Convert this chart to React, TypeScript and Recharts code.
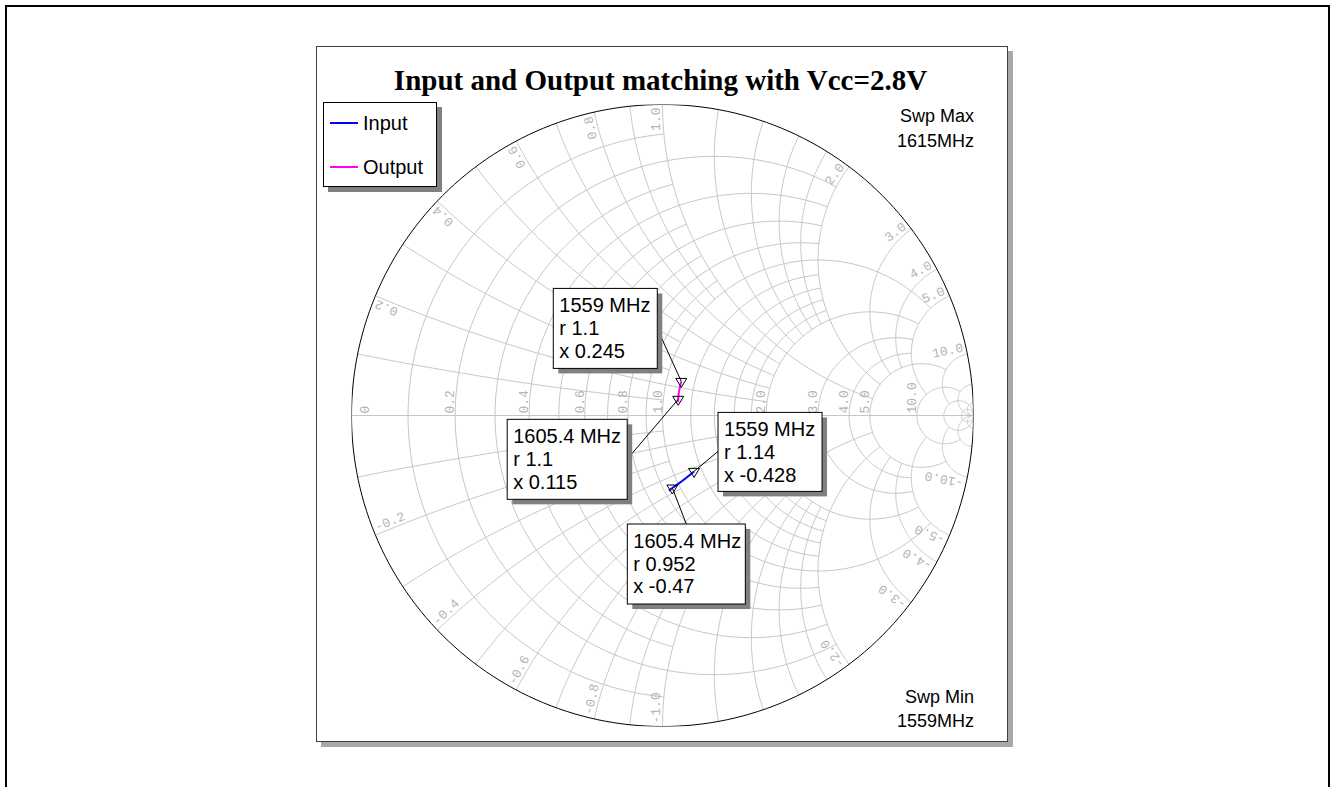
import { ComposedChart, Line, Scatter, XAxis, YAxis } from "recharts";

// swept impedance, normalised (r + jx)
const inputFreq = [1559, 1570, 1580, 1590, 1600, 1605.4, 1615];
const inputR = [1.14, 1.1, 1.066, 1.032, 0.988, 0.952, 0.925];
const inputX = [-0.428, -0.44, -0.449, -0.457, -0.465, -0.47, -0.475];

const outputFreq = [1559, 1575, 1590, 1605.4, 1615];
const outputR = [1.1, 1.099, 1.098, 1.1, 1.102];
const outputX = [0.245, 0.2, 0.155, 0.115, 0.095];

const traceNames = ["Input", "Output"];
const traceColors = ["#0000ff", "#ff00ff"];

const markerTrace = ["Output", "Output", "Input", "Input"];
const markerFreq = [1559, 1605.4, 1559, 1605.4];
const markerR = [1.1, 1.1, 1.14, 0.952];
const markerX = [0.245, 0.115, -0.428, -0.47];

// Smith grid: constant-r circles / constant-x arcs and where they get clipped
const rGrid = [0.1, 0.2, 0.3, 0.4, 0.5, 0.6, 0.7, 0.8, 0.9, 1.0, 1.2, 1.4, 1.6, 1.8, 2.0, 3.0, 4.0, 5.0, 10, 20, 50];
const rGridClip = [1, 2, 1, 2, 1, 2, 1, 2, 1, 5, 2, 2, 2, 2, 5, 5, 5, 10, 20, Infinity, Infinity];
const xGrid = [0.1, 0.2, 0.3, 0.4, 0.5, 0.6, 0.7, 0.8, 0.9, 1.0, 1.2, 1.4, 1.6, 1.8, 2.0, 3.0, 4.0, 5.0, 10, 20, 50];
const xGridClip = [1, 2, 1, 2, 1, 2, 1, 2, 1, 5, 2, 2, 2, 2, 5, 5, 5, 10, 20, Infinity, Infinity];

const rLabels = [0, 0.2, 0.4, 0.6, 0.8, 1.0, 2.0, 3.0, 4.0, 5.0, 10.0];
const xLabels = [0.2, 0.4, 0.6, 0.8, 1.0, 2.0, 3.0, 4.0, 5.0, 10.0];

const sweepMax = "1615MHz";
const sweepMin = "1559MHz";
const title = "Input and Output matching with Vcc=2.8V";

// layout
const PANEL = { left: 316, top: 46, width: 692, height: 696 };
const PLOT_MARGIN = { top: 58.5, right: 34.5, bottom: 15.5, left: 35.5 };
const GRID_COLOR = "#c6c6c6";
const LABEL_COLOR = "#b4b4b4";
const SANS = "Arial, 'Liberation Sans', sans-serif";

// callout boxes, px offsets from the marker point
const markerBoxes = [
  { dx: -128, dy: -93, w: 104, h: 80, ax: -20, ay: -44 },
  { dx: -171, dy: 20, w: 120, h: 80, ax: -46, ay: 54 },
  { dx: 24, dy: -59, w: 104, h: 79, ax: 24, ay: -20 },
  { dx: -45, dy: 36, w: 118, h: 80, ax: 14, ay: 36 },
];

type Pt = { gx: number; gy: number };

const gamma = (r: number, x: number): Pt => {
  const den = (r + 1) * (r + 1) + x * x;
  return { gx: (r * r - 1 + x * x) / den, gy: (2 * x) / den };
};

function rCircle(r: number, xmax: number, n = 140): Pt[] {
  const c = r / (1 + r);
  const rho = 1 / (1 + r);
  let a0 = 0;
  if (isFinite(xmax)) {
    const g = gamma(r, xmax);
    a0 = Math.atan2(g.gy, g.gx - c);
  }
  const pts: Pt[] = [];
  for (let i = 0; i <= n; i++) {
    const a = a0 + ((2 * Math.PI - 2 * a0) * i) / n;
    pts.push({ gx: c + rho * Math.cos(a), gy: rho * Math.sin(a) });
  }
  return pts;
}

function xArc(x: number, rmax: number, n = 120): Pt[] {
  const cy = 1 / x;
  const rad = 1 / Math.abs(x);
  const g0 = gamma(0, x);
  const g1 = isFinite(rmax) ? gamma(rmax, x) : { gx: 1, gy: 0 };
  const a0 = Math.atan2(g0.gy - cy, g0.gx - 1);
  let a1 = Math.atan2(g1.gy - cy, g1.gx - 1);
  if (x > 0) while (a1 < a0) a1 += 2 * Math.PI;
  else while (a1 > a0) a1 -= 2 * Math.PI;
  const pts: Pt[] = [];
  for (let i = 0; i <= n; i++) {
    const a = a0 + ((a1 - a0) * i) / n;
    pts.push({ gx: 1 + rad * Math.cos(a), gy: cy + rad * Math.sin(a) });
  }
  return pts;
}

const gridCurves: Pt[][] = [
  [{ gx: -1, gy: 0 }, { gx: 1, gy: 0 }],
  ...rGrid.map((r, i) => rCircle(r, rGridClip[i])),
  ...xGrid.map((x, i) => xArc(x, xGridClip[i])),
  ...xGrid.map((x, i) => xArc(-x, xGridClip[i])),
];
const unitCircle = rCircle(0, Infinity, 240);

const traces = [
  inputFreq.map((f, i) => ({ f, ...gamma(inputR[i], inputX[i]) })),
  outputFreq.map((f, i) => ({ f, ...gamma(outputR[i], outputX[i]) })),
];

const markers = markerFreq.map((f, i) => ({
  idx: i,
  trace: markerTrace[i],
  lines: [`${f} MHz`, `r ${markerR[i]}`, `x ${markerX[i]}`],
  ...gamma(markerR[i], markerX[i]),
}));

const fmt = (v: number) => (v === 0 ? "0" : v.toFixed(1));
const labelPoints = [
  ...rLabels.map((r) => ({ kind: "r", value: r, text: fmt(r), ...gamma(r, 0) })),
  ...xLabels.map((x) => ({ kind: "x", value: x, text: fmt(x), ...gamma(0, x) })),
  ...xLabels.map((x) => ({ kind: "x", value: -x, text: fmt(-x), ...gamma(0, -x) })),
];

function GridLabel(props: any) {
  const { cx, cy, payload } = props;
  const style = { fontFamily: "'Liberation Mono', 'Courier New', monospace", fontSize: 13, fill: LABEL_COLOR };
  if (payload.kind === "r") {
    const ox = payload.value === 0 ? 17 : -1;
    return (
      <text transform={`translate(${cx + ox},${cy - 2}) rotate(-90)`} textAnchor="start" {...style}>
        {payload.text}
      </text>
    );
  }
  const th = Math.atan2(payload.gy, payload.gx);
  const px = cx - 3 * Math.cos(th);
  const py = cy + 3 * Math.sin(th);
  const dir = payload.value > 0 ? th : th + Math.PI;
  return (
    <text
      transform={`translate(${px},${py}) rotate(${(-dir * 180) / Math.PI})`}
      textAnchor={payload.value > 0 ? "end" : "start"}
      dy={-3}
      {...style}
    >
      {payload.text}
    </text>
  );
}

function MarkerShape(props: any) {
  const { cx, cy, payload } = props;
  const b = markerBoxes[payload.idx];
  const bx = cx + b.dx;
  const by = cy + b.dy;
  return (
    <g>
      <line x1={cx + b.ax} y1={cy + b.ay} x2={cx} y2={cy} stroke="#000" strokeWidth={1} />
      <path d={`M${cx - 5.5},${cy - 3} L${cx + 5.5},${cy - 3} L${cx},${cy + 6} Z`} fill="none" stroke="#000" strokeWidth={1} />
      <rect x={bx + 5} y={by + 5} width={b.w} height={b.h} fill="#808080" />
      <rect x={bx} y={by} width={b.w} height={b.h} fill="#fff" stroke="#000" strokeWidth={1} />
      {payload.lines.map((t: string, i: number) => (
        <text key={i} x={bx + 6} y={by + 24 + i * 22.7} fontFamily={SANS} fontSize={20} fill="#000">
          {t}
        </text>
      ))}
    </g>
  );
}

const NoDot = () => <g />;

export default function App() {
  return (
    <div style={{ position: "relative", width: 1332, height: 787, background: "#fff", overflow: "hidden", fontFamily: SANS }}>
      <style>{`body{margin:0}`}</style>
      <div
        style={{
          position: "absolute",
          left: 5,
          top: 5,
          width: 1325,
          height: 900,
          boxSizing: "border-box",
          border: "2px solid #000",
        }}
      />
      <div
        style={{
          position: "absolute",
          left: PANEL.left,
          top: PANEL.top,
          width: PANEL.width,
          height: PANEL.height,
          boxSizing: "border-box",
          border: "1px solid #404040",
          background: "#fff",
          boxShadow: "5px 5px 0 #a8a8a8",
        }}
      />
      <div style={{ position: "absolute", left: PANEL.left, top: PANEL.top }}>
        <ComposedChart width={PANEL.width} height={PANEL.height} margin={PLOT_MARGIN}>
          <XAxis type="number" dataKey="gx" domain={[-1, 1]} hide allowDataOverflow />
          <YAxis type="number" dataKey="gy" domain={[-1, 1]} hide allowDataOverflow />
          {gridCurves.map((c, i) => (
            <Line
              key={`g${i}`}
              data={c}
              dataKey="gy"
              type="linear"
              stroke={GRID_COLOR}
              strokeWidth={1}
              dot={false}
              activeDot={false}
              isAnimationActive={false}
            />
          ))}
          <Line
            data={unitCircle}
            dataKey="gy"
            type="linear"
            stroke="#000"
            strokeWidth={1}
            dot={false}
            activeDot={false}
            isAnimationActive={false}
          />
          {traces.map((t, i) => (
            <Line
              key={traceNames[i]}
              name={traceNames[i]}
              data={t}
              dataKey="gy"
              type="linear"
              stroke={traceColors[i]}
              strokeWidth={2}
              dot={false}
              activeDot={false}
              isAnimationActive={false}
            />
          ))}
          <Scatter data={labelPoints} shape={GridLabel} isAnimationActive={false} />
          <Scatter data={markers} shape={MarkerShape} isAnimationActive={false} />
        </ComposedChart>
      </div>
      <svg width={1332} height={787} style={{ position: "absolute", left: 0, top: 0, pointerEvents: "none" }}>
        <text x={660.5} y={90} textAnchor="middle" fontFamily="'Times New Roman', 'Liberation Serif', serif" fontWeight="bold" fontSize={29}>
          {title}
        </text>
        <text x={974} y={121.7} textAnchor="end" fontFamily={SANS} fontSize={18}>Swp Max</text>
        <text x={974} y={146.5} textAnchor="end" fontFamily={SANS} fontSize={18}>{sweepMax}</text>
        <text x={974} y={702.7} textAnchor="end" fontFamily={SANS} fontSize={18}>Swp Min</text>
        <text x={974} y={726.7} textAnchor="end" fontFamily={SANS} fontSize={18}>{sweepMin}</text>
      </svg>
      <div
        style={{
          position: "absolute",
          left: 323,
          top: 102,
          width: 114,
          height: 85,
          boxSizing: "border-box",
          border: "1px solid #000",
          background: "#fff",
          boxShadow: "5px 5px 0 #808080",
        }}
      >
        {traceNames.map((n, i) => (
          <div key={n} style={{ position: "absolute", left: 6, top: 8 + i * 43.5, height: 24, display: "flex", alignItems: "center" }}>
            <span style={{ display: "inline-block", width: 28, height: 2, background: traceColors[i] }} />
            <span style={{ marginLeft: 5, fontSize: 20, lineHeight: "24px" }}>{n}</span>
          </div>
        ))}
      </div>
    </div>
  );
}
